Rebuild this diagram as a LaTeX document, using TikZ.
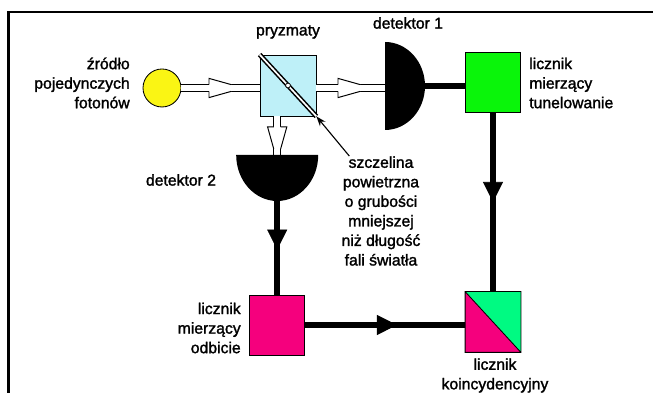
\documentclass[tikz,border=0pt]{standalone}
\usepackage{fontspec}
\setmainfont{Liberation Sans}[UprightFeatures={FakeBold=1.6}]
\usepackage{tikz}
\usetikzlibrary{
    arrows.meta,
    decorations.markings
}

\definecolor{photon}{RGB}{250,245,20}
\definecolor{glass}{RGB}{190,240,248}
\definecolor{tunnel}{RGB}{10,245,10}
\definecolor{reflect}{RGB}{245,0,125}
\definecolor{mint}{RGB}{0,250,130}

\tikzset{
    lbl/.style={font=\fontsize{11.2}{13.9}\selectfont, inner sep=0pt},
    counter/.style={draw, line width=0.6pt, minimum width=1.375cm, minimum height=1.5cm, inner sep=0pt},
    beam/.style={double=white, double distance=4.2pt, line width=0.7pt},
    wire/.style={line width=4pt},
    midarrow/.style={postaction={decorate}, decoration={markings,
        mark=at position #1 with {\arrow{Triangle[length=0.5cm, width=0.5cm, line width=0.4pt]}}}},
    beamhead/.pic={
        \fill[white] (0,-0.24) -- (0,0.24) -- (0.55,0.09) -- (0.55,-0.09) -- cycle;
        \draw[line width=0.7pt]
        (0,0.086) -- (0,0.24) -- (0.55,0.086)
        (0,-0.086) -- (0,-0.24) -- (0.55,-0.086);
    }
}

\begin{document}
\begin{tikzpicture}
                        \useasboundingbox (0,0) rectangle (16.325,9.825);
                        \draw[line width=1.5pt] (0.2125,0) -- (0.2125,9.525) -- (16.325,9.525);

                        \node[circle, draw, fill=photon, line width=0.6pt, minimum size=0.95cm, inner sep=0pt] (src) at (4.05,7.625) {};
                        \node[draw, fill=glass, line width=0.6pt, minimum width=1.4cm, minimum height=1.525cm, inner sep=0pt] (prism) at (7.2,7.6875) {};
                        \node[counter, fill=tunnel] (tun) at (12.325,7.775) {};
                        \node[counter, fill=reflect] (refl) at (6.93,1.7) {};
                        \node[counter] (coinc) at (12.325,1.775) {};
                        \fill[mint] (coinc.north west) -- (coinc.north east) -- (coinc.south east) -- cycle;
                        \fill[reflect] (coinc.north west) -- (coinc.south west) -- (coinc.south east) -- cycle;
                        \draw[line width=0.6pt]
                        (coinc.south west) rectangle (coinc.north east)
                        (coinc.north west) -- (coinc.south east);

                        \coordinate (det1in) at (9.625,7.625);
                        \coordinate (det1) at (10.58,7.675);
                        \coordinate (det2in) at (6.93,5.95);
                        \coordinate (det2) at (6.93,4.85);

                        \draw[beam] (src.east) -- (src -| prism.west);
                        \draw[beam] (src -| prism.east) -- (det1in);
                        \draw[beam] (det2in |- prism.south) -- (det2in);
                        \pic at (5.225,7.625) {beamhead};
                        \pic at (8.45,7.625) {beamhead};
                        \pic[rotate=-90] at (6.93,6.65) {beamhead};

                        \fill (9.625,8.775) arc[start angle=90, end angle=-90, x radius=1cm, y radius=1.1cm] -- cycle;
                        \fill (5.905,5.95) arc[start angle=180, end angle=360, x radius=1.025cm, y radius=1.15cm] -- cycle;

                        \draw[line width=1.1pt, double=white, double distance=1.2pt] (prism.north west) -- (prism.south east);
                        \filldraw[fill=white, line width=0.5pt] (prism.center) circle (0.06);

                        \draw[wire] (det1) -- (det1 -| tun.west);
                        \draw[wire, midarrow=0.5] (tun.south) -- (coinc.north);
                        \draw[wire, midarrow=0.53] (det2) -- (refl.north);
                        \draw[wire, midarrow=0.574] (refl.east) -- (refl.east -| coinc.west);

                        \node[lbl] (prlbl) at (7.2,9.025) {pryzmaty};
                        \node[lbl] (d1lbl) at (10.2,9.25) {detektor 1};
                        \node[lbl, align=right, anchor=east] (srclbl) at (3.25,7.75) {źródło\\pojedynczych\\fotonów};
                        \node[lbl] (d2lbl) at (4.525,5.325) {detektor 2};
                        \node[lbl, align=center] (slit) at (9.525,4.55) {szczelina\\powietrzna\\o grubości\\mniejszej\\niż długość\\fali światła};
                        \node[lbl, align=left, anchor=west] (tunlbl) at (13.225,7.75) {licznik\\mierzący\\tunelowanie};
                        \node[lbl, align=right, anchor=east] (refllbl) at (6.025,1.625) {licznik\\mierzący\\odbicie};
                        \node[lbl, align=center] (coinclbl) at (12.375,0.4375) {licznik\\koincydencyjny};

                        \draw[line width=0.8pt, -{Stealth[length=7pt, width=5pt]}] ([xshift=0.2cm]slit.north west) -- (prism.south east);
                    \end{tikzpicture}
\end{document}
